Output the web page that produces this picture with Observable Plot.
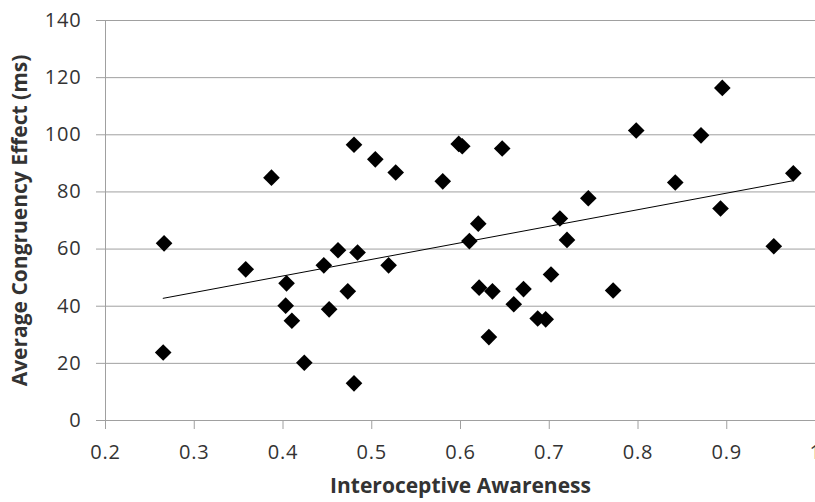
<!DOCTYPE html>
<html>
<head>
<meta charset="utf-8">
<script src="https://cdn.jsdelivr.net/npm/d3@7"></script>
<script src="https://cdn.jsdelivr.net/npm/@observablehq/plot@0.6"></script>
<style>
  html, body { margin: 0; padding: 0; background: #fff; }
  #chart g[aria-label="x-axis label"] text { font-weight: bold; font-size: 21px; }
  #chart g[aria-label="y-axis label"] text { font-weight: bold; font-size: 21px; }
  #chart g[aria-label="x-axis tick label"] text,
  #chart g[aria-label="y-axis tick label"] text { letter-spacing: 0.8px; }
</style>
</head>
<body>
<div id="chart"></div>
<script>
const awareness = [0.266, 0.265, 0.358, 0.387, 0.404, 0.403, 0.410, 0.424, 0.446, 0.452,
  0.462, 0.473, 0.480, 0.480, 0.484, 0.504, 0.519, 0.527, 0.580, 0.598,
  0.602, 0.610, 0.620, 0.621, 0.636, 0.632, 0.647, 0.660, 0.671, 0.687,
  0.696, 0.702, 0.712, 0.720, 0.744, 0.772, 0.798, 0.842, 0.871, 0.895,
  0.893, 0.953, 0.975];
const congruency = [62.0, 23.8, 52.9, 85.0, 48.0, 40.2, 34.9, 20.2, 54.3, 38.9,
  59.6, 45.2, 96.5, 13.0, 58.8, 91.4, 54.3, 86.8, 83.7, 96.8,
  96.0, 62.8, 68.9, 46.5, 45.2, 29.2, 95.2, 40.7, 46.0, 35.7,
  35.4, 51.1, 70.7, 63.2, 77.8, 45.5, 101.5, 83.3, 99.8, 116.4,
  74.2, 61.0, 86.5];
const xTicks = [0.2, 0.3, 0.4, 0.5, 0.6, 0.7, 0.8, 0.9, 1];
const yTicks = [0, 20, 40, 60, 80, 100, 120, 140];
const xTitle = "Interoceptive Awareness";
const yTitle = "Average Congruency Effect (ms)";

const data = awareness.map((x, i) => ({x, y: congruency[i]}));
const gray = "#a0a0a0";

const chart = Plot.plot({
  width: 815,
  height: 502,
  marginTop: 20,
  marginBottom: 82,
  marginLeft: 105,
  marginRight: 0,
  style: {fontFamily: "'Open Sans', sans-serif", fontSize: "20px", color: "#333", background: "#fff"},
  x: {domain: [0.2, 1]},
  y: {domain: [0, 140]},
  marks: [
    Plot.gridY(yTicks, {stroke: gray, strokeOpacity: 1, strokeWidth: 1}),
    Plot.axisY(yTicks, {tickSize: 9, tickPadding: 15, stroke: gray, strokeOpacity: 1,
      label: yTitle, labelAnchor: "center", labelOffset: 93, labelArrow: "none", fill: "#333"}),
    Plot.axisX(xTicks, {tickSize: 9, tickPadding: 15, stroke: gray, strokeOpacity: 1,
      tickFormat: d => d === 1 ? "1" : d.toFixed(1),
      label: xTitle, labelAnchor: "center", labelOffset: 72, labelArrow: "none", fill: "#333"}),
    Plot.ruleX([0.2], {stroke: gray}),
    Plot.ruleY([0], {stroke: gray}),
    Plot.linearRegressionY(data, {x: "x", y: "y", ci: 0, stroke: "#000", strokeWidth: 1}),
    Plot.dot(data, {x: "x", y: "y", symbol: "diamond2", r: 7.5, fill: "#000", stroke: "none"})
  ]
});
document.getElementById("chart").appendChild(chart);
</script>
</body>
</html>
